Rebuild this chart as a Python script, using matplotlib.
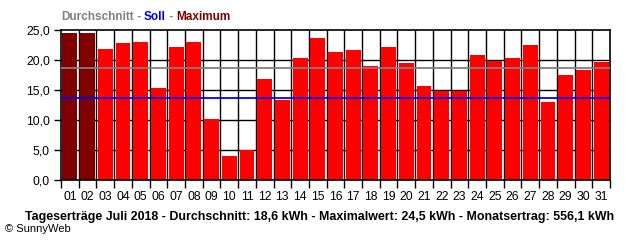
import numpy as np
import matplotlib
matplotlib.use('Agg')
import matplotlib.pyplot as plt

# daily yield July 2018 (kWh)
days = [f'{d:02d}' for d in range(1, 32)]
values = [24.5, 24.5, 21.8, 22.8, 23.0, 15.3, 22.2, 23.0, 10.2, 4.0,
          5.0, 16.8, 13.4, 20.3, 23.7, 21.3, 21.7, 19.0, 22.2, 19.5,
          15.7, 14.9, 14.9, 20.8, 19.9, 20.3, 22.5, 13.0, 17.5, 18.4,
          19.7]
maxDays = ['01', '02']
average = 18.6
target = 13.6
yTicks = [0, 5, 10, 15, 20, 25]
caption = ('Tageserträge Juli 2018 - Durchschnitt: 18,6 kWh - '
           'Maximalwert: 24,5 kWh - Monatsertrag: 556,1 kWh')

plt.rcParams['font.family'] = ['Liberation Sans', 'DejaVu Sans']

fig = plt.figure(figsize=(6.4, 2.4), dpi=100)
ax = fig.add_axes([61 / 640, 60 / 240, 549 / 640, 150 / 240])

x = np.arange(len(days))
colors = ['#800000' if d in maxDays else '#ff0000' for d in days]

# grid first, bars on top
for y in yTicks[1:-1]:
  ax.axhline(y, color='black', lw=1, zorder=1)
for b in x[:-1] + 0.5:
  ax.axvline(b, color='black', lw=1, zorder=1)

ax.bar(x, values, width=0.84, color=colors, zorder=2)
ax.axhline(average, color='#808080', lw=1.3, zorder=3)
ax.axhline(target, color='#0000ff', lw=1.3, zorder=3)

ax.set_xlim(-0.5, len(days) - 0.5)
ax.set_ylim(0, 25)
ax.set_xticks(x)
ax.set_xticklabels(days)
ax.set_xticks(np.arange(-0.5, len(days)), minor=True)
ax.tick_params(axis='x', which='major', length=0, pad=8, labelsize=8.8)
ax.tick_params(axis='x', which='minor', length=6, width=1, direction='out')
ax.set_yticks(yTicks)
ax.set_yticklabels([f'{v:.1f}'.replace('.', ',') for v in yTicks])
ax.tick_params(axis='y', length=5, width=1, labelsize=8.8, pad=3)
for s in ax.spines.values():
  s.set_linewidth(1.2)

# legend-like header
parts = [('Durchschnitt', '#808080'), (' - ', '#808080'), ('Soll', '#0000ff'),
         (' - ', '#808080'), ('Maximum', '#800000')]
xpos = 61
renderer = fig.canvas.get_renderer()
for txt, col in parts:
  t = fig.text(xpos / 640, 1 - 17 / 240, txt, color=col, fontsize=8.5,
               fontweight='bold', va='center', ha='left')
  xpos += t.get_window_extent(renderer).width

fig.text(320 / 640, 1 - 217 / 240, caption, fontsize=8.9, fontweight='bold',
         ha='center', va='center')
fig.text(5 / 640, 1 - 229 / 240, '© SunnyWeb', fontsize=8, ha='left', va='center')

fig.savefig('out.png', dpi=100)
